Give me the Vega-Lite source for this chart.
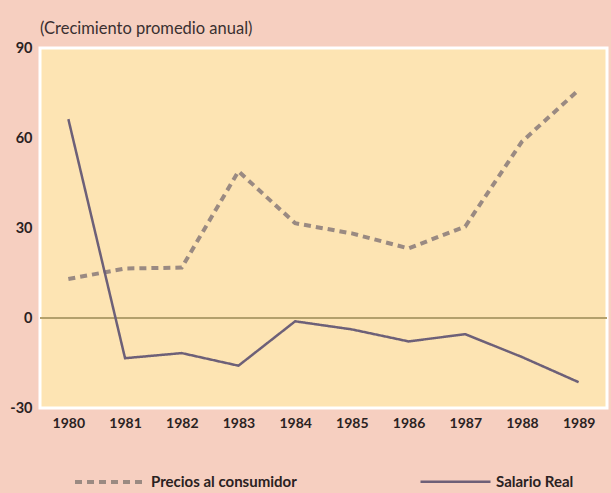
{
  "$schema": "https://vega.github.io/schema/vega-lite/v6.json",
  "autosize": "none",
  "width": 567,
  "height": 360,
  "padding": {"left": 40, "top": 48, "right": 4, "bottom": 85},
  "background": "#f6cfc0",
  "config": {
    "view": {"fill": "#fde4b3", "stroke": "#ffffff", "strokeWidth": 3},
    "font": "Lato"
  },
  "title": {
    "text": "(Crecimiento promedio anual)",
    "anchor": "start",
    "frame": "group",
    "fontSize": 16.5,
    "fontWeight": "normal",
    "color": "#3a3030",
    "offset": 3
  },
  "datasets": {
    "series": [
      {"year": "1980", "serie": "Precios al consumidor", "value": 13},
      {"year": "1981", "serie": "Precios al consumidor", "value": 16.5},
      {"year": "1982", "serie": "Precios al consumidor", "value": 16.8},
      {"year": "1983", "serie": "Precios al consumidor", "value": 48.9},
      {"year": "1984", "serie": "Precios al consumidor", "value": 31.6},
      {"year": "1985", "serie": "Precios al consumidor", "value": 28.2},
      {"year": "1986", "serie": "Precios al consumidor", "value": 23.2},
      {"year": "1987", "serie": "Precios al consumidor", "value": 30.5},
      {"year": "1988", "serie": "Precios al consumidor", "value": 58.8},
      {"year": "1989", "serie": "Precios al consumidor", "value": 76},
      {"year": "1980", "serie": "Salario Real", "value": 66.3},
      {"year": "1981", "serie": "Salario Real", "value": -13.4},
      {"year": "1982", "serie": "Salario Real", "value": -11.7},
      {"year": "1983", "serie": "Salario Real", "value": -15.9},
      {"year": "1984", "serie": "Salario Real", "value": -1.1},
      {"year": "1985", "serie": "Salario Real", "value": -3.8},
      {"year": "1986", "serie": "Salario Real", "value": -7.8},
      {"year": "1987", "serie": "Salario Real", "value": -5.4},
      {"year": "1988", "serie": "Salario Real", "value": -13},
      {"year": "1989", "serie": "Salario Real", "value": -21.4}
    ]
  },
  "data": {"name": "series"},
  "layer": [
    {
      "mark": {"type": "rule", "color": "#b3a06c", "strokeWidth": 1.5},
      "encoding": {"y": {"datum": 0, "type": "quantitative"}}
    },
    {
      "mark": {"type": "line", "strokeJoin": "miter"},
      "encoding": {
        "x": {
          "field": "year",
          "type": "ordinal",
          "scale": {"type": "point", "padding": 0.5},
          "axis": {
            "title": null,
            "labelAngle": 0,
            "domain": false,
            "ticks": false,
            "labelFontSize": 14,
            "labelFontWeight": "bold",
            "labelColor": "#2a2222",
            "labelPadding": 8
          }
        },
        "y": {
          "field": "value",
          "type": "quantitative",
          "scale": {"domain": [-30, 90], "nice": false},
          "axis": {
            "title": null,
            "values": [-30, 0, 30, 60, 90],
            "labelExpr": "'' + datum.value",
            "grid": false,
            "domain": false,
            "ticks": false,
            "labelFontSize": 14.5,
            "labelFontWeight": "bold",
            "labelColor": "#2a2222",
            "labelPadding": 8
          }
        },
        "color": {
          "field": "serie",
          "type": "nominal",
          "scale": {"domain": ["Precios al consumidor", "Salario Real"], "range": ["#9a8a82", "#6d6078"]},
          "legend": {
            "title": null,
            "orient": "none",
            "legendX": 33,
            "legendY": 397,
            "direction": "horizontal",
            "symbolType": "stroke",
            "symbolSize": 4900,
            "labelFontSize": 15,
            "labelFontWeight": "bold",
            "labelColor": "#2a2222",
            "labelOffset": 4,
            "columnPadding": 118
          }
        },
        "strokeDash": {
          "field": "serie",
          "type": "nominal",
          "scale": {"domain": ["Precios al consumidor", "Salario Real"], "range": [[7, 5], [1, 0]]}
        },
        "strokeWidth": {
          "field": "serie",
          "type": "nominal",
          "scale": {"domain": ["Precios al consumidor", "Salario Real"], "range": [4, 2.5]}
        }
      }
    }
  ]
}
